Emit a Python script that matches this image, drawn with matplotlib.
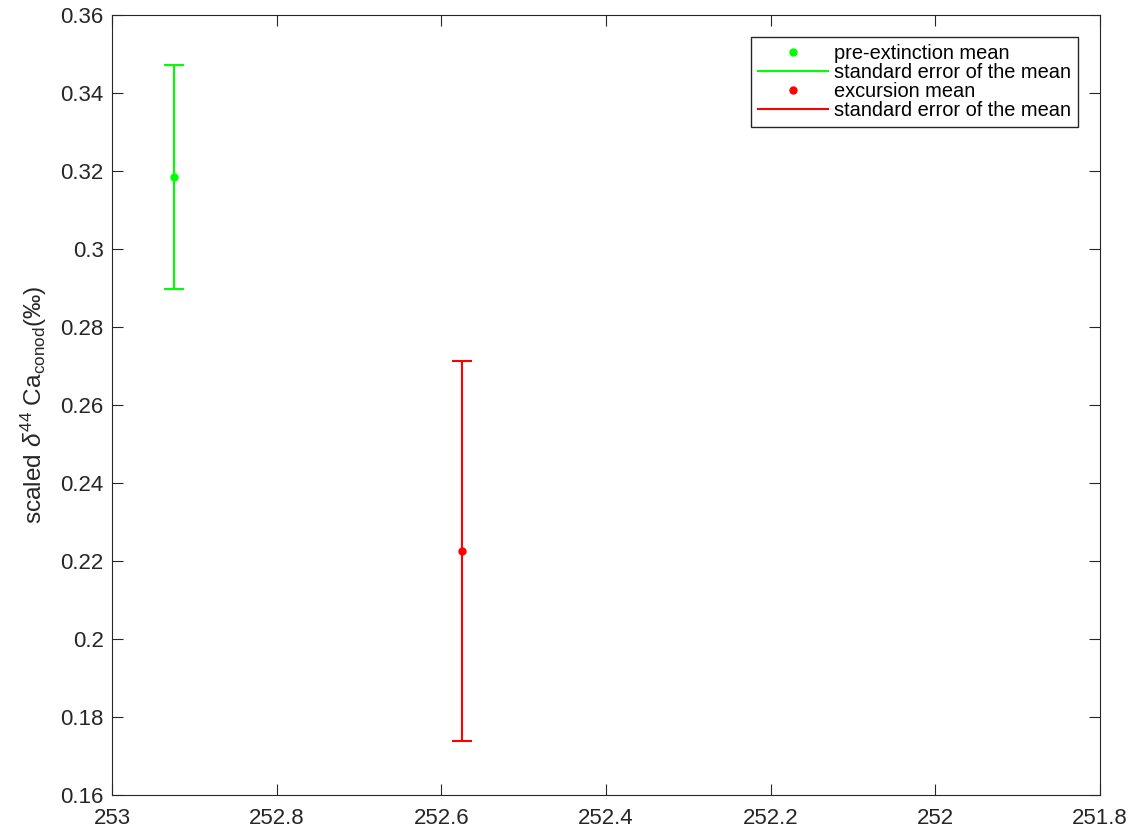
import numpy as np
import matplotlib
matplotlib.use('Agg')
import matplotlib.pyplot as plt
from matplotlib.lines import Line2D

plt.rcParams['font.family'] = ['Liberation Sans', 'DejaVu Sans']
plt.rcParams['mathtext.fontset'] = 'custom'
plt.rcParams['mathtext.rm'] = 'Liberation Sans'
plt.rcParams['mathtext.it'] = 'Liberation Sans:italic'

# data
labels = ['pre-extinction mean', 'excursion mean']
age = [252.925, 252.575]
mean_val = [0.3185, 0.2225]
sem = [0.0288, 0.0487]
colors = ['#00ff00', '#ff0000']
axis_col = '#262626'

fig = plt.figure(figsize=(11.44, 8.32), dpi=100)
ax = fig.add_axes([112 / 1144, 37 / 832, 988 / 1144, 780 / 832])

handles = []
for i in range(len(age)):
    ax.errorbar(age[i], mean_val[i], yerr=sem[i], fmt='none', ecolor=colors[i],
                elinewidth=1.5, capsize=7, capthick=1.5)
    ax.plot(age[i], mean_val[i], 'o', color=colors[i], markersize=5)
    handles.append(Line2D([], [], ls='none', marker='o', color=colors[i], markersize=5))
    handles.append(Line2D([], [], color=colors[i], lw=1.5))

leg_labels = ['pre-extinction mean', 'standard error of the mean',
              'excursion mean', 'standard error of the mean']
leg = ax.legend(handles, leg_labels, loc='upper right', fontsize=14.4, frameon=True,
                fancybox=False, edgecolor=axis_col, framealpha=1,
                handlelength=3.5, handletextpad=0.3, labelspacing=0.0,
                borderpad=0.35, borderaxespad=1.1)
leg.get_frame().set_linewidth(1.0)

ax.set_xlim(253, 251.8)
ax.set_ylim(0.16, 0.36)
ax.set_xticks(np.arange(253, 251.79, -0.2))
ax.set_xticklabels(['253', '252.8', '252.6', '252.4', '252.2', '252', '251.8'])
ax.set_yticks(np.arange(0.16, 0.3601, 0.02))
ax.set_yticklabels(['0.16', '0.18', '0.2', '0.22', '0.24', '0.26', '0.28',
                    '0.3', '0.32', '0.34', '0.36'])
ax.tick_params(direction='in', top=True, right=True, labelsize=16, length=8, width=0.8,
               color=axis_col, labelcolor=axis_col, pad=6)
ax.tick_params(axis='x', pad=9)
for s in ax.spines.values():
    s.set_linewidth(0.8)
    s.set_color(axis_col)
ax.set_ylabel(r'scaled $\delta^{44}$ Ca$_{\rm conod}$(‰)', fontsize=17.6, color=axis_col,
              labelpad=8)

fig.savefig('out.png', dpi=100)
